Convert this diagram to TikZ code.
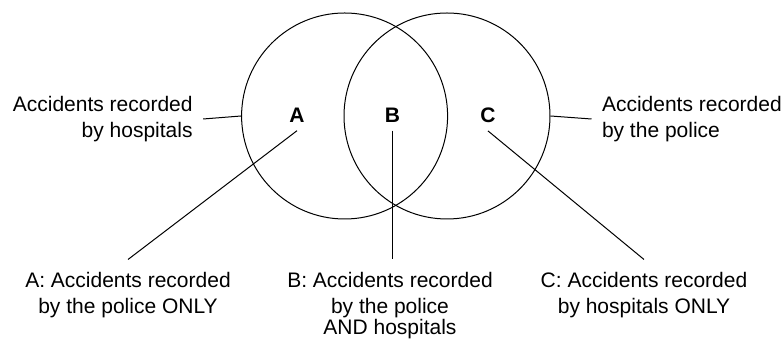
\documentclass[tikz,border=0pt]{standalone}
\usepackage{fontspec}
\setmainfont{Liberation Sans}
\usetikzlibrary{positioning}

\begin{document}
\begin{tikzpicture}[
  x=0.5pt, y=-0.5pt,
  line width=0.5pt,
  every node/.style={font=\fontsize{10.5}{13}\selectfont},
  setcircle/.style={circle, draw, minimum size=103pt, inner sep=0pt},
  regiontag/.style={font=\fontsize{10.5}{13}\selectfont\bfseries, inner sep=4pt},
  sidetext/.style={inner sep=5pt, yshift=-1.5pt},
  keytext/.style={align=center, anchor=north, inner sep=6pt},
  leader/.style={line width=0.5pt}
]
\useasboundingbox (0,0) rectangle (783,340);

\node[setcircle] (hospitalCircle) at (344.6,116) {};
\node[setcircle] (policeCircle) at (447,116) {};

\node[regiontag] (tagA) at (297,115) {A};
\node[regiontag] (tagB) at (392.5,115) {B};
\node[regiontag] (tagC) at (488,115) {C};

\node[sidetext, align=right, left=19pt of hospitalCircle.west] (hospitalText)
{Accidents recorded\\by hospitals};
\node[sidetext, align=left, right=20.5pt of policeCircle.east] (policeText)
{Accidents recorded\\by the police};

\node[keytext] (keyA) at (128,259.5)
{A: Accidents recorded\\by the police ONLY};
\node[keytext] (keyB) at (390,259.5)
{B: Accidents recorded\\by the police\\[-2.5pt]AND hospitals};
\node[keytext] (keyC) at (644,259.5)
{C: Accidents recorded\\by hospitals ONLY};

% Leader lines
\draw[leader] (hospitalText.east) -- (hospitalCircle.west);
\draw[leader] (policeText.west) -- (policeCircle.east);
\draw[leader] (tagA.south) -- (keyA.north);
\draw[leader] (tagB.south) -- (tagB.south |- keyB.north);
\draw[leader] (tagC.south) -- (keyC.north);

\end{tikzpicture}
\end{document}
